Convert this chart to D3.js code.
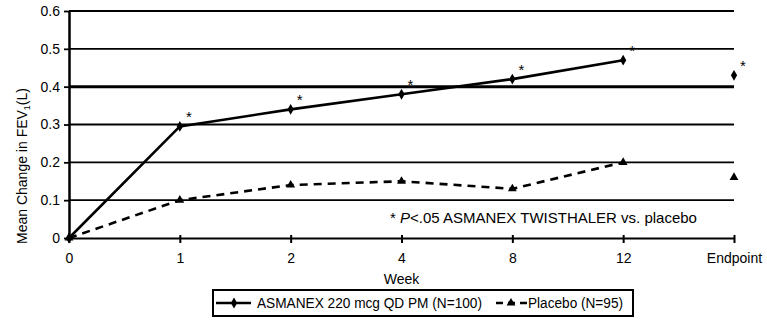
<!DOCTYPE html>
<html>
<head>
<meta charset="utf-8">
<script src="https://cdn.jsdelivr.net/npm/d3@7"></script>
<style>
  body { margin: 0; background: #fff; }
  text { font-family: "Liberation Sans", Arial, sans-serif; fill: #000; }
</style>
</head>
<body>
<div id="chart"></div>
<script>
// datos
const weeks = ["0", "1", "2", "4", "8", "12", "Endpoint"]
const asmanex = [0, 0.295, 0.34, 0.38, 0.42, 0.47, 0.43]
const placebo = [0, 0.10, 0.14, 0.15, 0.13, 0.20, 0.16]
const signif = [false, true, true, true, true, true, true]
const yTicks = [0, 0.1, 0.2, 0.3, 0.4, 0.5, 0.6]

const width = 767, height = 328
const margin = { top: 11, right: 33, bottom: 90, left: 69 }

const svg = d3.select("#chart")
  .append("svg")
  .attr("width", width)
  .attr("height", height)

const g = svg.append("g")
  .attr("transform", `translate(${margin.left}, ${margin.top})`)

const innerW = width - margin.left - margin.right
const innerH = height - margin.top - margin.bottom

// Escalas
const x = d3.scalePoint().domain(weeks).range([0, innerW])
const y = d3.scaleLinear().domain([0, 0.6]).range([innerH, 0])

// rejilla
g.selectAll(".grid")
  .data(yTicks.filter(d => d > 0))
  .enter()
  .append("line")
  .attr("x1", 0)
  .attr("x2", innerW)
  .attr("y1", d => y(d))
  .attr("y2", d => y(d))
  .attr("stroke", "#000")
  .attr("stroke-width", d => d === 0.4 ? 3 : 1.8)

// ejes
const yAxis = g.append("g")
  .call(d3.axisLeft(y).tickValues(yTicks).tickFormat(d => d === 0 ? "0" : d3.format(".1f")(d)).tickSize(5).tickSizeOuter(0))
yAxis.select(".domain").attr("stroke-width", 2.5)
yAxis.selectAll(".tick line").attr("stroke-width", 1.8)
yAxis.selectAll("text").attr("font-size", 14).attr("dx", -1)

const xAxis = g.append("g")
  .attr("transform", `translate(0, ${innerH})`)
  .call(d3.axisBottom(x).tickSize(5).tickSizeOuter(0))
xAxis.select(".domain").attr("stroke-width", 2)
xAxis.selectAll(".tick line").attr("stroke-width", 2).attr("y1", -3)
xAxis.selectAll("text").attr("font-size", 14).attr("dy", "1.2em")

// lineas (sin endpoint)
const line = d3.line()
  .x((d, i) => x(weeks[i]))
  .y(d => y(d))

g.append("path")
  .datum(asmanex.slice(0, 6))
  .attr("d", line)
  .attr("fill", "none")
  .attr("stroke", "#000")
  .attr("stroke-width", 2.6)

g.append("path")
  .datum(placebo.slice(0, 6))
  .attr("d", line)
  .attr("fill", "none")
  .attr("stroke", "#000")
  .attr("stroke-width", 2.6)
  .attr("stroke-dasharray", "8,6")

// marcadores
const diamond = d3.symbol().type(d3.symbolDiamond).size(34)
const triangle = d3.symbol().type(d3.symbolTriangle).size(34)

g.selectAll(".dA")
  .data(asmanex)
  .enter()
  .append("path")
  .attr("d", diamond)
  .attr("transform", (d, i) => `translate(${x(weeks[i])}, ${y(d)})`)
  .attr("fill", "#000")

g.selectAll(".dP")
  .data(placebo)
  .enter()
  .append("path")
  .attr("d", triangle)
  .attr("transform", (d, i) => `translate(${x(weeks[i])}, ${y(d)})`)
  .attr("fill", "#000")

// asteriscos
g.selectAll(".star")
  .data(asmanex.map((v, i) => ({ v, w: weeks[i], s: signif[i] })).filter(d => d.s))
  .enter()
  .append("text")
  .attr("x", d => x(d.w) + 9)
  .attr("y", d => y(d.v) - 4)
  .attr("font-size", 15)
  .attr("text-anchor", "middle")
  .text("*")

// nota
const nota = g.append("text")
  .attr("x", 390 - margin.left)
  .attr("y", y(0.04))
  .attr("font-size", 15)
nota.append("tspan").text("* ")
nota.append("tspan").attr("font-style", "italic").text("P")
nota.append("tspan").text("<.05 ASMANEX TWISTHALER vs. placebo")

// titulos
g.append("text")
  .attr("x", x("4"))
  .attr("y", innerH + 46)
  .attr("text-anchor", "middle")
  .attr("font-size", 14)
  .text("Week")

const yLab = svg.append("text")
  .attr("transform", `translate(27, 166) rotate(-90)`)
  .attr("text-anchor", "middle")
  .attr("font-size", 14)
yLab.append("tspan").text("Mean Change in FEV")
yLab.append("tspan").attr("font-size", 9).attr("dy", 3).text("1")
yLab.append("tspan").attr("dy", -3).text("(L)")

// leyenda
const leg = svg.append("g").attr("transform", "translate(213, 290)")
leg.append("rect")
  .attr("width", 420).attr("height", 26)
  .attr("fill", "#fff").attr("stroke", "#000").attr("stroke-width", 2)

leg.append("line").attr("x1", 3).attr("x2", 38).attr("y1", 13).attr("y2", 13)
  .attr("stroke", "#000").attr("stroke-width", 2.6)
leg.append("path").attr("d", diamond).attr("transform", "translate(21, 13)")
leg.append("text").attr("x", 44).attr("y", 18).attr("font-size", 14)
  .attr("textLength", 225).attr("lengthAdjust", "spacingAndGlyphs")
  .text("ASMANEX 220 mcg QD PM (N=100)")

leg.append("line").attr("x1", 283).attr("x2", 314).attr("y1", 13).attr("y2", 13)
  .attr("stroke", "#000").attr("stroke-width", 2.6).attr("stroke-dasharray", "7,5")
leg.append("path").attr("d", triangle).attr("transform", "translate(298, 13)")
leg.append("text").attr("x", 315).attr("y", 18).attr("font-size", 14)
  .attr("textLength", 95).attr("lengthAdjust", "spacingAndGlyphs")
  .text("Placebo (N=95)")
</script>
</body>
</html>
